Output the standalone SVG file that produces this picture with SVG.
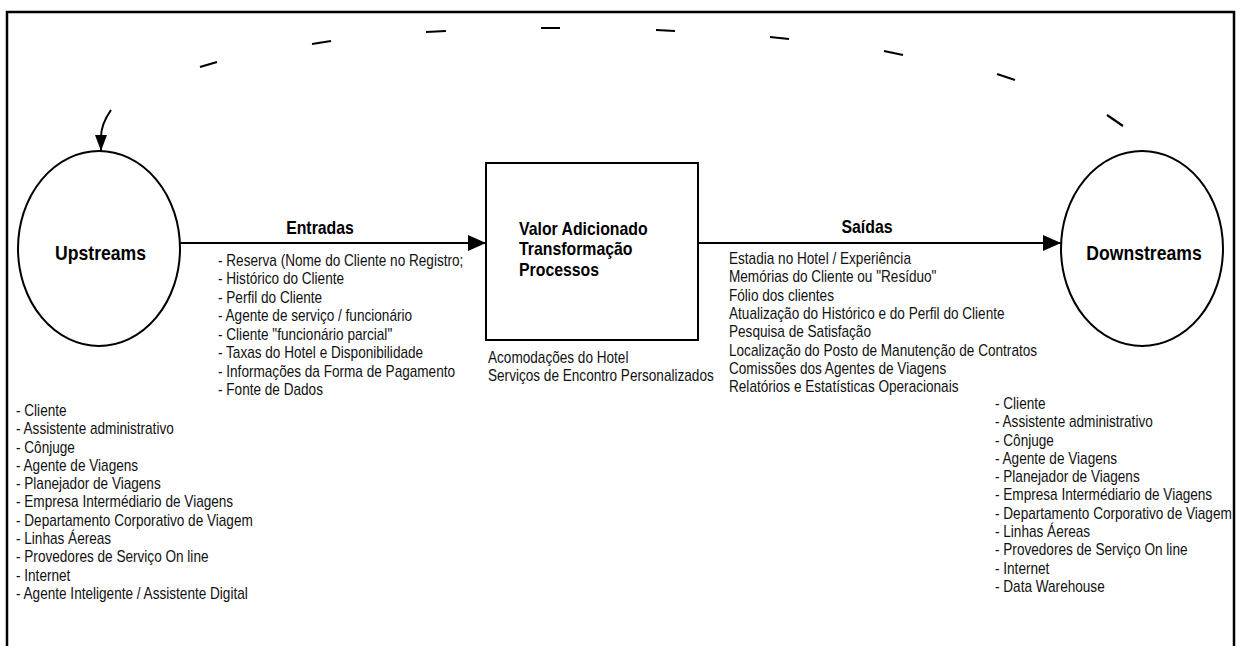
<svg xmlns="http://www.w3.org/2000/svg" width="1240" height="646" viewBox="0 0 1240 646">
  <style>
    .frame { fill: none; stroke: #000; stroke-width: 2.5; }
    .shape { fill: #fff; stroke: #000; stroke-width: 2; }
    .edge { fill: none; stroke: #000; stroke-width: 2; }
    .dash { fill: none; stroke: #000; stroke-width: 2.2; stroke-linecap: butt; }
    .title { font-family: "Liberation Sans", Arial, sans-serif; font-weight: bold; fill: #000; }
    .list { font-family: "Liberation Sans", Arial, sans-serif; font-size: 16px; fill: #111; }
  </style>
  <defs>
    <marker id="head" markerUnits="userSpaceOnUse" markerWidth="18" markerHeight="16" viewBox="0 0 18 16" refX="18" refY="8" orient="auto">
      <path d="M0,0 L18,8 L0,16 z" fill="#000"/>
    </marker>
    <marker id="headSmall" markerUnits="userSpaceOnUse" markerWidth="16" markerHeight="12" viewBox="0 0 16 12" refX="16" refY="6" orient="auto">
      <path d="M0,0 L16,6 L0,12 z" fill="#000"/>
    </marker>
  </defs>

  <rect width="1240" height="646" fill="#fff"/>
  <rect class="frame" x="7" y="12" width="1227" height="700"/>

  <!-- connectors -->
  <g id="connectors">
    <line class="edge" x1="180" y1="243" x2="486" y2="243" marker-end="url(#head)"/>
    <line class="edge" x1="698" y1="243" x2="1061" y2="243" marker-end="url(#head)"/>
    <!-- dashed feedback arc from Downstreams back to Upstreams -->
    <path class="dash" d="M1123,126 L1107,115 M1015,80 L997,74 M903,55 L884,51 M789,39 L770,37 M675,31 L656,30 M560,28 L541,28 M446,31 L426,32 M331,41 L312,44 M217,62 L200,67"/>
    <path class="edge" d="M111,110 C104,120 101,128 101,137 L101,151" marker-end="url(#headSmall)"/>
    <text class="title" font-size="18" text-anchor="middle" transform="translate(320,234) scale(0.88,1)">Entradas</text>
    <text class="title" font-size="18" text-anchor="middle" transform="translate(867,233) scale(0.88,1)">Saídas</text>
    <text class="list" transform="translate(218,266) scale(0.85,1)">
      <tspan x="0" dy="0">- Reserva (Nome do Cliente no Registro;</tspan>
      <tspan x="0" dy="18.5">- Histórico do Cliente</tspan>
      <tspan x="0" dy="18.5">- Perfil do Cliente</tspan>
      <tspan x="0" dy="18.5">- Agente de serviço / funcionário</tspan>
      <tspan x="0" dy="18.5">- Cliente "funcionário parcial"</tspan>
      <tspan x="0" dy="18.5">- Taxas do Hotel e Disponibilidade</tspan>
      <tspan x="0" dy="18.5">- Informações da Forma de Pagamento</tspan>
      <tspan x="0" dy="18.5">- Fonte de Dados</tspan>
    </text>
    <text class="list" transform="translate(729,264) scale(0.85,1)">
      <tspan x="0" dy="0">Estadia no Hotel / Experiência</tspan>
      <tspan x="0" dy="18.35">Memórias do Cliente ou "Resíduo"</tspan>
      <tspan x="0" dy="18.35">Fólio dos clientes</tspan>
      <tspan x="0" dy="18.35">Atualização do Histórico e do Perfil do Cliente</tspan>
      <tspan x="0" dy="18.35">Pesquisa de Satisfação</tspan>
      <tspan x="0" dy="18.35">Localização do Posto de Manutenção de Contratos</tspan>
      <tspan x="0" dy="18.35">Comissões dos Agentes de Viagens</tspan>
      <tspan x="0" dy="18.35">Relatórios e Estatísticas Operacionais</tspan>
    </text>
  </g>

  <!-- Upstreams -->
  <g id="upstreams">
    <ellipse class="shape" cx="99" cy="248.5" rx="81" ry="97.5"/>
    <text class="title" font-size="20" text-anchor="middle" transform="translate(100.5,260) scale(0.88,1)">Upstreams</text>
    <text class="list" transform="translate(16,416) scale(0.85,1)">
      <tspan x="0" dy="0">- Cliente</tspan>
      <tspan x="0" dy="18.3">- Assistente administrativo</tspan>
      <tspan x="0" dy="18.3">- Cônjuge</tspan>
      <tspan x="0" dy="18.3">- Agente de Viagens</tspan>
      <tspan x="0" dy="18.3">- Planejador de Viagens</tspan>
      <tspan x="0" dy="18.3">- Empresa Intermédiario de Viagens</tspan>
      <tspan x="0" dy="18.3">- Departamento Corporativo de Viagem</tspan>
      <tspan x="0" dy="18.3">- Linhas Áereas</tspan>
      <tspan x="0" dy="18.3">- Provedores de Serviço On line</tspan>
      <tspan x="0" dy="18.3">- Internet</tspan>
      <tspan x="0" dy="18.3">- Agente Inteligente / Assistente Digital</tspan>
    </text>
  </g>

  <!-- Process box -->
  <g id="processo">
    <rect class="shape" x="486" y="163" width="212" height="177"/>
    <text class="title" font-size="18" transform="translate(519,235) scale(0.88,1)">
      <tspan x="0" dy="0">Valor Adicionado</tspan>
      <tspan x="0" dy="20.5">Transformação</tspan>
      <tspan x="0" dy="20.5">Processos</tspan>
    </text>
    <text class="list" transform="translate(488,363) scale(0.85,1)">
      <tspan x="0" dy="0">Acomodações do Hotel</tspan>
      <tspan x="0" dy="18.3">Serviços de Encontro Personalizados</tspan>
    </text>
  </g>

  <!-- Downstreams -->
  <g id="downstreams">
    <ellipse class="shape" cx="1142" cy="248.5" rx="81" ry="97.5"/>
    <text class="title" font-size="20" text-anchor="middle" transform="translate(1144,260) scale(0.88,1)">Downstreams</text>
    <text class="list" transform="translate(995,409) scale(0.85,1)">
      <tspan x="0" dy="0">- Cliente</tspan>
      <tspan x="0" dy="18.3">- Assistente administrativo</tspan>
      <tspan x="0" dy="18.3">- Cônjuge</tspan>
      <tspan x="0" dy="18.3">- Agente de Viagens</tspan>
      <tspan x="0" dy="18.3">- Planejador de Viagens</tspan>
      <tspan x="0" dy="18.3">- Empresa Intermédiario de Viagens</tspan>
      <tspan x="0" dy="18.3">- Departamento Corporativo de Viagem</tspan>
      <tspan x="0" dy="18.3">- Linhas Áereas</tspan>
      <tspan x="0" dy="18.3">- Provedores de Serviço On line</tspan>
      <tspan x="0" dy="18.3">- Internet</tspan>
      <tspan x="0" dy="18.3">- Data Warehouse</tspan>
    </text>
  </g>
</svg>
